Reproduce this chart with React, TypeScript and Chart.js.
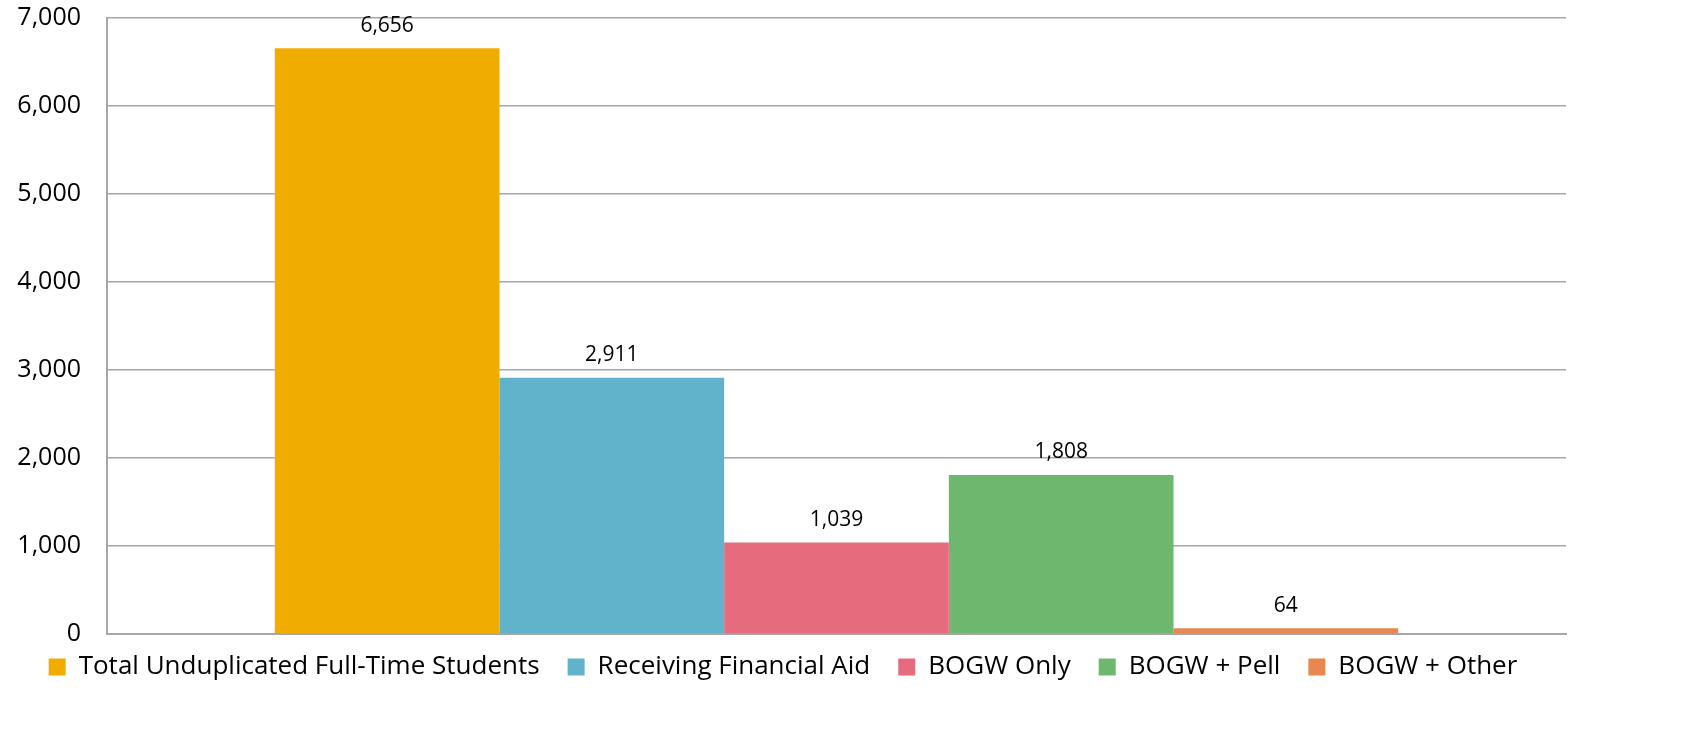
import React, { useEffect, useRef } from "react";
import { Chart, registerables } from "chart.js";

Chart.register(...registerables);

const categories = [""];
const seriesNames = [
  "Total Unduplicated Full-Time Students",
  "Receiving Financial Aid",
  "BOGW Only",
  "BOGW + Pell",
  "BOGW + Other",
];
const seriesValues = [6656, 2911, 1039, 1808, 64];
const seriesColors = ["#F0AD00", "#60B3CB", "#E66C7D", "#6DB76F", "#E8874F"];
const yTicks = [0, 1000, 2000, 3000, 4000, 5000, 6000, 7000];

const FONT = "'Open Sans', Lato, sans-serif";

const valueLabels = {
  id: "valueLabels",
  afterLayout(chart: any) {
    if (chart.legend) {
      chart.legend.top -= 16;
      chart.legend.bottom -= 16;
    }
  },
  afterDatasetsDraw(chart: any) {
    const ctx = chart.ctx;
    ctx.save();
    ctx.font = `21px ${FONT}`;
    ctx.fillStyle = "#000";
    ctx.textAlign = "center";
    ctx.textBaseline = "bottom";
    chart.data.datasets.forEach((ds: any, i: number) => {
      const meta = chart.getDatasetMeta(i);
      meta.data.forEach((bar: any, j: number) => {
        const v = ds.data[j];
        ctx.fillText(v.toLocaleString("en-US"), bar.x, bar.y - 12);
      });
    });
    ctx.restore();
  },
};

export default function App() {
  const ref = useRef<HTMLCanvasElement>(null);
  useEffect(() => {
    if (!ref.current) return;
    const chart = new Chart(ref.current, {
      type: "bar",
      data: {
        labels: categories,
        datasets: seriesNames.map((name, i) => ({
          label: name,
          data: [seriesValues[i]],
          backgroundColor: seriesColors[i],
          borderWidth: 0,
        })),
      },
      options: {
        animation: false,
        responsive: true,
        maintainAspectRatio: false,
        layout: { padding: { left: 0, right: 128, top: 4, bottom: 31 } },
        datasets: { bar: { categoryPercentage: 0.77, barPercentage: 1 } },
        plugins: {
          legend: {
            position: "bottom",
            labels: {
              font: { size: 26, family: FONT },
              color: "#000",
              boxWidth: 17,
              boxHeight: 17,
              padding: 28,
            },
          },
          tooltip: { enabled: false },
        },
        scales: {
          x: {
            ticks: { display: false },
            grid: { display: false },
            border: { display: true, color: "#A6A6A6", width: 2 },
          },
          y: {
            min: 0,
            max: 7000,
            afterBuildTicks: (axis: any) => {
              axis.ticks = yTicks.map((v) => ({ value: v }));
            },
            afterFit: (axis: any) => {
              axis.width = 107;
              axis.paddingTop = 18;
              axis.paddingBottom = 14;
            },
            ticks: {
              font: { size: 25, family: FONT },
              color: "#000",
              padding: 26,
              callback: (v: any) => Number(v).toLocaleString("en-US"),
            },
            grid: { color: "#A6A6A6", lineWidth: 1.5, drawTicks: false },
            border: { display: true, color: "#A6A6A6", width: 2 },
          },
        },
      },
      plugins: [valueLabels],
    });
    return () => chart.destroy();
  }, []);
  return (
    <div style={{ position: "fixed", left: 0, top: 0, width: 1694, height: 737, background: "#fff" }}>
      <canvas ref={ref} />
    </div>
  );
}
